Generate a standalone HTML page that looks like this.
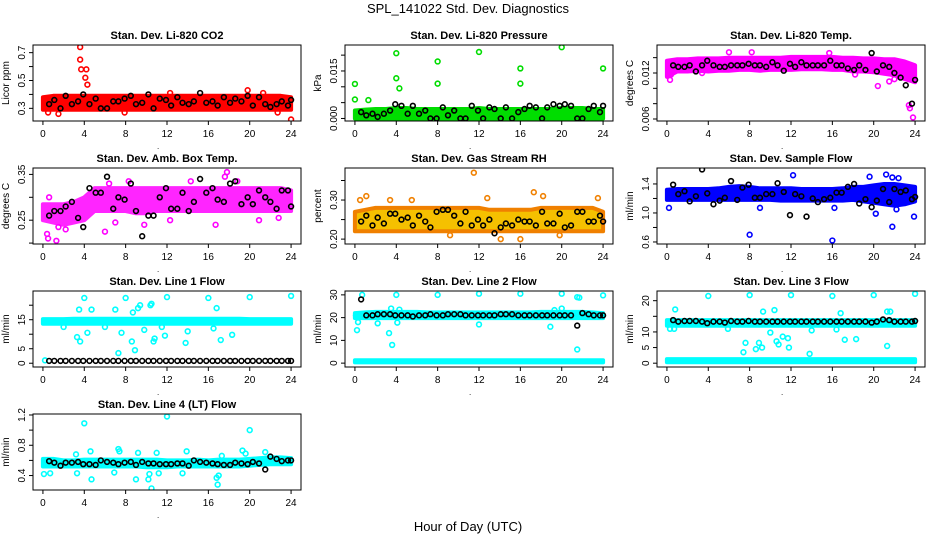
<!DOCTYPE html>
<html><head><meta charset="utf-8"><style>
html,body{margin:0;padding:0;background:#fff;}
svg{display:block;font-family:"Liberation Sans",sans-serif;}
</style></head><body>
<svg id="c" width="936" height="540" viewBox="0 0 936 540">
<text x="468" y="13" text-anchor="middle" font-size="13">SPL_141022  Std. Dev. Diagnostics</text>
<text x="468" y="531" text-anchor="middle" font-size="13">Hour of Day (UTC)</text>
</svg>
<script>
const hours=[0,1,2,3,4,5,6,7,8,9,10,11,12,13,14,15,16,17,18,19,20,21,22,23,24];
const blackHours=[0.6,1.1,1.7,2.2,2.8,3.4,3.9,4.5,5.1,5.6,6.2,6.8,7.3,7.9,8.5,9.0,9.6,10.2,10.7,11.3,11.9,12.4,13.0,13.5,14.1,14.6,15.2,15.8,16.4,16.9,17.5,18.1,18.6,19.2,19.8,20.3,20.9,21.5,22.0,22.6,23.1,23.7,24.0];
const xTicks=[0,4,8,12,16,20,24];

const co2Lo=[0.29,0.29,0.29,0.29,0.29,0.29,0.29,0.29,0.29,0.29,0.29,0.29,0.29,0.29,0.29,0.29,0.29,0.29,0.29,0.29,0.29,0.29,0.29,0.29,0.29];
const co2Hi=[0.38,0.39,0.39,0.39,0.39,0.39,0.39,0.39,0.39,0.39,0.39,0.39,0.39,0.39,0.39,0.39,0.39,0.39,0.39,0.39,0.39,0.39,0.39,0.39,0.38];
const co2Out=[[3.6,0.74],[3.6,0.65],[3.7,0.58],[4.2,0.58],[4.1,0.52],[4.3,0.47],[1.5,0.26],[7.9,0.27],[24,0.22],[19.8,0.43],[21.3,0.41],[12.3,0.41],[22.7,0.27],[0.5,0.27]];
const co2Black=[0.33,0.36,0.30,0.39,0.33,0.35,0.40,0.33,0.37,0.30,0.30,0.35,0.35,0.37,0.39,0.33,0.34,0.40,0.30,0.37,0.36,0.32,0.38,0.34,0.33,0.35,0.41,0.34,0.35,0.32,0.38,0.34,0.37,0.35,0.39,0.32,0.38,0.33,0.31,0.33,0.35,0.32,0.36];

const presLo=[0,0,0,0,0,0,0,0,0,0,0,0,0,0,0,0,0,0,0,0,0,0,0,0,0];
const presHi=[0.0025,0.0028,0.003,0.003,0.0033,0.0033,0.003,0.003,0.003,0.003,0.003,0.003,0.0033,0.003,0.003,0.003,0.003,0.003,0.003,0.003,0.0033,0.0033,0.0033,0.003,0.003];
const presOut=[[0,0.0109],[0,0.006],[4,0.0206],[4,0.0127],[4.3,0.0095],[8,0.018],[8,0.011],[12,0.021],[16,0.0158],[16,0.011],[20,0.0225],[24,0.0158],[1.3,0.0058]];
const presBlack=[0.002,0.001,0.0015,0.0005,0.0015,0.0025,0.0045,0.004,0.0015,0.004,0.0015,0.0025,0,0,0.0035,0.001,0.0025,0,0,0.004,0.0025,0,0.0035,0.003,0,0.0035,0,0.002,0.003,0.004,0.0035,0,0.0035,0.0045,0.004,0.0045,0.004,0,0,0.003,0.004,0.002,0.004];

const tempLo=[0.0115,0.0122,0.0122,0.0123,0.0122,0.0123,0.0123,0.0124,0.0124,0.0123,0.0124,0.0124,0.0124,0.0125,0.0125,0.0125,0.0124,0.0124,0.0122,0.0122,0.0121,0.0119,0.0117,0.0112,0.0108];
const tempHi=[0.0136,0.0138,0.0138,0.0139,0.0139,0.0139,0.014,0.014,0.014,0.014,0.014,0.014,0.0141,0.0141,0.0141,0.0141,0.0141,0.014,0.014,0.0139,0.0139,0.0138,0.0138,0.0135,0.013];
const tempOut=[[0.3,0.0111],[0.4,0.0118],[6,0.0147],[8.2,0.0147],[15.7,0.0146],[23.4,0.0078],[23.5,0.0074],[23.8,0.0062],[20.4,0.0103],[21.5,0.0109],[22,0.0112],[3.4,0.012],[18.2,0.0118]];
const tempBlack=[0.013,0.0128,0.0128,0.013,0.0122,0.013,0.0136,0.013,0.0128,0.0128,0.013,0.013,0.013,0.0132,0.013,0.013,0.0128,0.0134,0.013,0.0123,0.0132,0.0128,0.0134,0.013,0.013,0.013,0.013,0.0136,0.013,0.013,0.0126,0.0124,0.013,0.0124,0.0146,0.0122,0.013,0.0128,0.012,0.0114,0.0104,0.008,0.0111];

const ambLo=[0.25,0.245,0.24,0.245,0.25,0.27,0.27,0.27,0.27,0.265,0.265,0.27,0.27,0.27,0.27,0.27,0.27,0.27,0.27,0.27,0.27,0.27,0.27,0.27,0.27];
const ambHi=[0.285,0.285,0.285,0.29,0.3,0.32,0.32,0.32,0.32,0.32,0.32,0.32,0.32,0.32,0.32,0.32,0.32,0.32,0.32,0.32,0.32,0.32,0.32,0.32,0.315];
const ambOut=[[0.4,0.22],[0.5,0.21],[1.3,0.205],[0.6,0.3],[6,0.225],[7,0.245],[9.8,0.24],[12.3,0.25],[16.7,0.24],[17.8,0.355],[17.6,0.345],[18.8,0.335],[14.3,0.335],[20.9,0.25],[22.8,0.255],[6.4,0.33],[8.3,0.335],[1.5,0.235],[2.2,0.23]];
const ambBlack=[0.26,0.27,0.27,0.28,0.29,0.255,0.235,0.32,0.31,0.31,0.345,0.275,0.3,0.295,0.33,0.27,0.215,0.26,0.26,0.3,0.32,0.275,0.275,0.31,0.27,0.29,0.34,0.31,0.32,0.295,0.29,0.33,0.335,0.285,0.3,0.285,0.315,0.3,0.29,0.275,0.315,0.315,0.28];

const rhLo=[0.22,0.22,0.22,0.22,0.22,0.22,0.22,0.22,0.22,0.22,0.22,0.22,0.22,0.22,0.22,0.22,0.22,0.22,0.22,0.22,0.22,0.22,0.22,0.22,0.22];
const rhHi=[0.27,0.275,0.28,0.28,0.28,0.28,0.28,0.28,0.28,0.28,0.28,0.28,0.28,0.275,0.275,0.275,0.275,0.275,0.28,0.28,0.28,0.28,0.28,0.28,0.27];
const rhOut=[[11.5,0.37],[17.3,0.32],[18.2,0.31],[23.5,0.305],[0.5,0.3],[12.8,0.305],[14.1,0.2],[16,0.2],[19.8,0.21],[9.2,0.21],[3.4,0.3],[5.5,0.3],[1.1,0.31]];
const rhBlack=[0.245,0.26,0.235,0.255,0.24,0.265,0.265,0.25,0.255,0.235,0.26,0.245,0.23,0.27,0.275,0.275,0.26,0.24,0.27,0.235,0.25,0.235,0.25,0.215,0.23,0.24,0.235,0.25,0.245,0.245,0.235,0.27,0.24,0.24,0.265,0.23,0.235,0.27,0.27,0.245,0.245,0.26,0.245];

const sfLo=[1.18,1.18,1.18,1.18,1.18,1.18,1.18,1.18,1.18,1.18,1.18,1.17,1.17,1.17,1.17,1.17,1.17,1.17,1.18,1.16,1.14,1.12,1.1,1.12,1.16];
const sfHi=[1.32,1.33,1.33,1.33,1.33,1.34,1.36,1.37,1.36,1.34,1.34,1.34,1.34,1.33,1.33,1.33,1.33,1.34,1.36,1.36,1.38,1.4,1.4,1.38,1.36];
const sfOut=[[0.2,1.07],[8,0.7],[16,0.62],[12.2,1.52],[19.6,1.5],[21.2,1.53],[21.8,1.49],[22.4,1.48],[21.8,0.81],[23.9,0.95],[20.2,0.99],[9,1.07],[16.2,1.07],[22.2,1.05]];
const sfBlack=[1.39,1.26,1.3,1.16,1.23,1.6,1.27,1.12,1.17,1.21,1.44,1.18,1.35,1.39,1.21,1.21,1.26,1.26,1.41,1.29,0.97,1.26,1.23,0.95,1.2,1.15,1.19,1.21,1.28,1.28,1.36,1.4,1.13,1.19,1.08,1.17,1.33,1.15,1.33,1.29,1.31,1.19,1.22];

const l1Lo=[13.6,13.6,13.6,13.6,13.6,13.6,13.6,13.6,13.6,13.6,13.6,13.6,13.6,13.6,13.6,13.6,13.6,13.6,13.6,13.6,13.6,13.6,13.6,13.6,13.6];
const l1Hi=[15.2,15.2,15.2,15.3,15.3,15.3,15.3,15.3,15.3,15.3,15.3,15.3,15.3,15.3,15.3,15.3,15.3,15.3,15.3,15.3,15.2,15.2,15.2,15.2,15.2];
const l1Out=[[4,22.5],[8,22.5],[12,22.8],[16,22.5],[20,22.8],[24,23.2],[3.5,18.5],[4.7,18.5],[7,18.5],[9.4,20],[9.2,19],[10.5,20.5],[10.4,20],[8.7,17.5],[3.3,9],[3.6,7.5],[4.3,10.5],[7.3,3.5],[7.6,10.5],[8.6,7.5],[8.9,4.5],[9.8,11.5],[10.7,7.5],[10.8,8.5],[11.8,9.5],[13.8,7],[14,11],[17.2,8],[18.3,9.8],[16.8,19],[16.5,12],[0.2,1],[2,12.5],[6,12.5],[11.5,12.5]];
const l1Black=[0.8,0.8,0.8,0.8,0.8,0.8,0.8,0.8,0.8,0.8,0.8,0.8,0.8,0.8,0.8,0.8,0.8,0.8,0.8,0.8,0.8,0.8,0.8,0.8,0.8,0.8,0.8,0.8,0.8,0.8,0.8,0.8,0.8,0.8,0.8,0.8,0.8,0.8,0.8,0.8,0.8,0.8,0.8];

const l2Lo=[19.8,19.8,19.8,19.8,19.8,19.8,19.8,19.8,19.8,19.8,19.8,19.8,19.8,19.8,19.8,19.8,19.8,19.8,19.8,19.8,19.8,19.8,19.8,19.8,19.8];
const l2Hi=[22,22.3,22.5,22.5,22.5,22.5,22.5,22.3,22.3,22.3,22.3,22.3,22.3,22.3,22.3,22.3,22.3,22.3,22.5,22.5,22.5,22.5,22.5,22.3,22];
const l2Lo2=[0.3,0.3,0.3,0.3,0.3,0.3,0.3,0.3,0.3,0.3,0.3,0.3,0.3,0.3,0.3,0.3,0.3,0.3,0.3,0.3,0.3,0.3,0.3,0.3,0.3];
const l2Hi2=[1.3,1.3,1.3,1.3,1.3,1.3,1.3,1.3,1.3,1.3,1.3,1.3,1.3,1.3,1.3,1.3,1.3,1.3,1.3,1.3,1.3,1.3,1.3,1.3,1.3];
const l2Out=[[0.2,14.5],[0.3,18],[0.7,30],[4,30],[8,30],[12,30.5],[16,30.5],[20,30.5],[24,29.8],[21.5,29],[21.7,28.8],[3.3,13.2],[3.6,8],[2.2,17.5],[3.5,24],[4.3,23.5],[4.1,17.8],[12,17],[18.9,16],[21.5,6],[20,24],[19.3,23.3],[0.1,21]];
const l2Black=[28,21,21,21.5,21.5,21.5,21,21,21,20.5,21,21,21.5,21,21,21.5,21.5,21.5,21,21,21,21,21,21,21.5,21.5,21.5,21,21,21,21,21,21,21,21,21,21,16.5,22,21.5,21,21,21];

const l3Lo=[12,12,12,12,12,12,12,12,12,12,12,12,12,12,12,12,12,12,12,12,12,12,12,12,12];
const l3Hi=[13.8,13.8,13.8,13.8,13.8,13.8,13.8,13.8,13.8,13.8,13.8,13.8,13.8,13.8,13.8,13.8,13.8,13.8,13.8,13.8,13.8,13.8,13.8,13.8,13.8];
const l3Lo2=[0.3,0.3,0.3,0.3,0.3,0.3,0.3,0.3,0.3,0.3,0.3,0.3,0.3,0.3,0.3,0.3,0.3,0.3,0.3,0.3,0.3,0.3,0.3,0.3,0.3];
const l3Hi2=[1.3,1.3,1.3,1.3,1.3,1.3,1.3,1.3,1.3,1.3,1.3,1.3,1.3,1.3,1.3,1.3,1.3,1.3,1.3,1.3,1.3,1.3,1.3,1.3,1.3];
const l3Out=[[4,21.5],[8,21.8],[12,21.8],[16,21.5],[20,21.8],[24,22.2],[0.8,17.2],[9.3,16.5],[10.4,17],[16.8,16],[21.3,16.5],[21.6,16.5],[7.4,3.5],[7.6,6.5],[8.6,4.5],[8.9,6.5],[9.2,5],[10,9.8],[10.6,7],[10.8,6],[11.2,8.5],[11.8,5],[11.7,8],[13.8,3],[17.2,7.5],[18.3,7.7],[21.3,5.5],[5.9,11],[16.4,10.8],[0.3,11],[0.7,11],[14,10.5]];
const l3Black=[13.8,13.3,13.5,13.5,13.5,13.3,12.8,13.3,13.3,13,13.5,13.3,13.3,13.5,13.3,13.3,13.3,13.3,13.3,13.3,13.3,13.3,13.3,13.3,13.3,13.3,13.3,13.3,13.3,13.3,13.3,13.3,13.3,13.3,13,13.3,14,13.8,13.3,13.3,13.3,13.3,13.5];

const l4Lo=[0.52,0.52,0.52,0.52,0.52,0.52,0.52,0.52,0.52,0.52,0.51,0.51,0.51,0.52,0.52,0.52,0.52,0.52,0.52,0.52,0.53,0.54,0.55,0.55,0.55];
const l4Hi=[0.62,0.62,0.6,0.6,0.61,0.61,0.61,0.61,0.61,0.61,0.61,0.61,0.6,0.6,0.6,0.61,0.6,0.61,0.61,0.61,0.62,0.63,0.64,0.64,0.63];
const l4Out=[[0.1,0.42],[0.7,0.43],[4,1.09],[4.7,0.35],[4.6,0.72],[3.3,0.43],[3.2,0.68],[7.3,0.75],[7.4,0.72],[9,0.35],[9.2,0.7],[10.2,0.35],[10.5,0.23],[10.3,0.42],[11.2,0.43],[12,1.18],[11,0.7],[13.5,0.43],[13.9,0.72],[16.8,0.37],[16.9,0.28],[17,0.4],[19.3,0.73],[20,1.0],[21.5,0.71],[6.9,0.44],[17.3,0.66],[19.6,0.69]];
const l4Black=[0.59,0.57,0.53,0.57,0.57,0.58,0.55,0.55,0.54,0.6,0.58,0.57,0.55,0.57,0.58,0.54,0.58,0.56,0.56,0.55,0.55,0.55,0.56,0.56,0.53,0.6,0.58,0.57,0.56,0.55,0.54,0.54,0.57,0.56,0.55,0.58,0.56,0.48,0.65,0.62,0.59,0.6,0.6];

const NS='http://www.w3.org/2000/svg';
const svg=document.getElementById('c');
function mk(tag,attrs,parent){const e=document.createElementNS(NS,tag);for(const k in attrs)e.setAttribute(k,attrs[k]);(parent||svg).appendChild(e);return e;}

const colL=[33,345,657], rowT=[45,168,291,414], W=268, H=76;

function panel(o){
  const L=colL[o.col], T=rowT[o.row];
  const g=mk('g',{});
  
  
  const xs=h=>L+(h+0.96)/25.92*W;
  const ys=v=>T+H-(v-o.y0)/(o.y1-o.y0)*H;
  const t=mk('text',{x:L+W/2,y:T-6,'text-anchor':'middle','font-size':11,'font-weight':'bold'},g);
  t.textContent=o.title;
  
  
  const clip='clip'+o.col+o.row;
  const cp=mk('clipPath',{id:clip},g); mk('rect',{x:L,y:T,width:W,height:H},cp);
  const pg=mk('g',{'clip-path':'url(#'+clip+')'},g);
  o.bands.forEach(b=>{
    let d='';
    hours.forEach((h,i)=>{d+=(i?'L':'M')+xs(h).toFixed(1)+' '+ys(b[1][i]).toFixed(1);});
    for(let i=hours.length-1;i>=0;i--)d+='L'+xs(hours[i]).toFixed(1)+' '+ys(b[0][i]).toFixed(1);
    const p=mk('path',{d:d+'Z',fill:o.fill||o.color,stroke:o.color,'stroke-width':4,'stroke-linejoin':'round',opacity:o.op||1},pg);
    
    
  });
  o.out.forEach(pt=>{
    const c=mk('circle',{cx:xs(pt[0]),cy:ys(pt[1]),r:2.4,fill:'none',stroke:o.color,'stroke-width':1.6},pg);
    
    
  });
  blackHours.forEach((h,i)=>{
    if(i>=o.black.length)return;
    const c=mk('circle',{cx:xs(h),cy:ys(o.black[i]),r:2.4,fill:'none',stroke:'#000','stroke-width':1.6},pg);
    
    
  });
  const box=mk('rect',{x:L,y:T,width:W,height:H,fill:'none',stroke:'#000','stroke-width':1},g);
  
  
  // x axis
  const xa=mk('g',{},g);
  
  
  xTicks.forEach(h=>{
    mk('line',{x1:xs(h),x2:xs(h),y1:T+H,y2:T+H+4,stroke:'#000'},xa);
    const tx=mk('text',{x:xs(h),y:T+H+16,'text-anchor':'middle','font-size':10},xa);
    tx.textContent=h;
  });
  const dot=mk('text',{x:L+W/2-10,y:T+H+28,'font-size':8},g); dot.textContent='.';
  // y axis
  const ya=mk('g',{},g);
  
  
  mk('line',{x1:L,x2:L,y1:ys(o.ticks[0]),y2:ys(o.ticks[o.ticks.length-1]),stroke:'#000'},ya);
  o.ticks.forEach((v,i)=>{
    mk('line',{x1:L-4,x2:L,y1:ys(v),y2:ys(v),stroke:'#000'},ya);
    if(o.labels[i]){
      const tx=mk('text',{x:L-8,y:ys(v),'text-anchor':'middle','font-size':10,transform:'rotate(-90 '+(L-8)+' '+ys(v)+')'},ya);
      tx.textContent=o.labels[i];
    }
  });
  const yt=mk('text',{x:L-24,y:T+H/2,'text-anchor':'middle','font-size':10,transform:'rotate(-90 '+(L-24)+' '+(T+H/2)+')'},g);
  yt.textContent=o.ytitle;
  
  
}

panel({name:'panel-co2',col:0,row:0,title:'Stan. Dev. Li-820 CO2',ytitle:'Licor ppm',y0:0.209,y1:0.755,ticks:[0.3,0.4,0.5,0.6,0.7],labels:['0.3','','0.5','','0.7'],color:'#ff0000',bands:[[co2Lo,co2Hi]],out:co2Out,black:co2Black});
panel({name:'panel-pressure',col:1,row:0,title:'Stan. Dev. Li-820 Pressure',ytitle:'kPa',y0:-0.0008,y1:0.0232,ticks:[0,0.005,0.01,0.015,0.02],labels:['0.000','','','0.015',''],color:'#00dd00',bands:[[presLo,presHi]],out:presOut,black:presBlack});
panel({name:'panel-temp',col:2,row:0,title:'Stan. Dev. Li-820 Temp.',ytitle:'degrees C',y0:0.00574,y1:0.01565,ticks:[0.006,0.008,0.01,0.012,0.014],labels:['0.006','','','0.012',''],color:'#ff00ff',bands:[[tempLo,tempHi]],out:tempOut,black:tempBlack});
panel({name:'panel-amb-box-temp',col:0,row:1,title:'Stan. Dev. Amb. Box Temp.',ytitle:'degrees C',y0:0.198,y1:0.364,ticks:[0.2,0.25,0.3,0.35],labels:['','0.25','','0.35'],color:'#ff00ff',op:0.85,bands:[[ambLo,ambHi]],out:ambOut,black:ambBlack});
panel({name:'panel-gas-rh',col:1,row:1,title:'Stan. Dev. Gas Stream RH',ytitle:'percent',y0:0.1875,y1:0.382,ticks:[0.2,0.25,0.3,0.35],labels:['0.20','','0.30',''],color:'#f08000',fill:'#f5c000',bands:[[rhLo,rhHi]],out:rhOut,black:rhBlack});
panel({name:'panel-sample-flow',col:2,row:1,title:'Stan. Dev. Sample Flow',ytitle:'ml/min',y0:0.572,y1:1.62,ticks:[0.6,0.8,1.0,1.2,1.4],labels:['0.6','','1.0','','1.4'],color:'#0000ff',bands:[[sfLo,sfHi]],out:sfOut,black:sfBlack});
panel({name:'panel-line1-flow',col:0,row:2,title:'Stan. Dev. Line 1 Flow',ytitle:'ml/min',y0:-1.3,y1:24.9,ticks:[0,5,10,15,20],labels:['0','5','','15',''],color:'#00ffff',bands:[[l1Lo,l1Hi]],out:l1Out,black:l1Black});
panel({name:'panel-line2-flow',col:1,row:2,title:'Stan. Dev. Line 2 Flow',ytitle:'ml/min',y0:-1.7,y1:31.7,ticks:[0,10,20,30],labels:['0','10','20','30'],color:'#00ffff',bands:[[l2Lo,l2Hi],[l2Lo2,l2Hi2]],out:l2Out,black:l2Black});
panel({name:'panel-line3-flow',col:2,row:2,title:'Stan. Dev. Line 3 Flow',ytitle:'ml/min',y0:-1.22,y1:23.1,ticks:[0,5,10,15,20],labels:['0','5','10','','20'],color:'#00ffff',bands:[[l3Lo,l3Hi],[l3Lo2,l3Hi2]],out:l3Out,black:l3Black});
panel({name:'panel-line4-flow',col:0,row:3,title:'Stan. Dev. Line 4 (LT) Flow',ytitle:'ml/min',y0:0.209,y1:1.213,ticks:[0.4,0.6,0.8,1.0,1.2],labels:['0.4','','0.8','','1.2'],color:'#00ffff',bands:[[l4Lo,l4Hi]],out:l4Out,black:l4Black});
</script>
</body></html>
